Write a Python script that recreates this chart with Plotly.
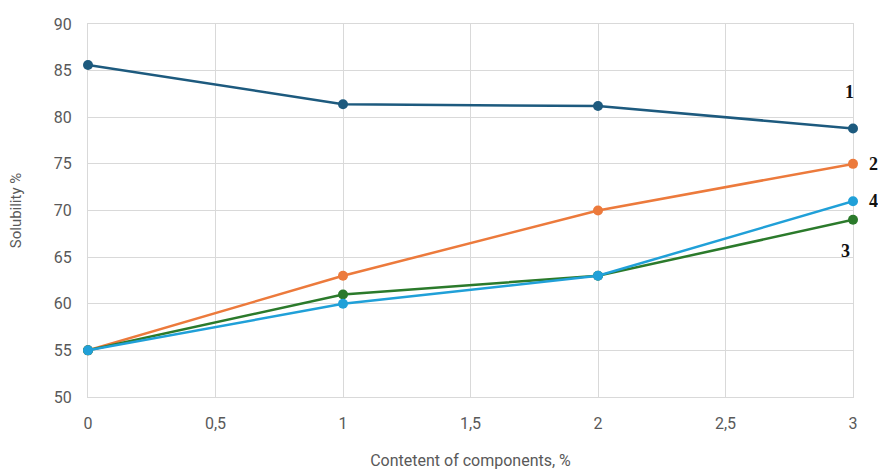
import plotly.graph_objects as go

# Content of components, %
content = [0, 1, 2, 3]

# Solubility, % for each composition
series_1 = [85.6, 81.4, 81.2, 78.8]
series_2 = [55.0, 63.0, 70.0, 75.0]
series_3 = [55.0, 61.0, 63.0, 69.0]
series_4 = [55.0, 60.0, 63.0, 71.0]

curve_names = ["1", "2", "3", "4"]
colors = ["#1d5a7e", "#ec7a3c", "#2b7a2b", "#20a0d8"]

fig = go.Figure()
for name, ys, c in zip(curve_names, [series_1, series_2, series_3, series_4], colors):
    fig.add_trace(go.Scatter(
        x=content, y=ys, mode="lines+markers", name=name,
        line=dict(color=c, width=2.5),
        marker=dict(color=c, size=10),
        cliponaxis=False, showlegend=False,
    ))

# Curve numbers next to the last points
label_pos = {"1": (series_1[-1], -4, 36), "2": (series_2[-1], 20, 0),
             "4": (series_4[-1], 20, 0), "3": (series_3[-1], -8, -31)}
for name, (yv, dx, dy) in label_pos.items():
    fig.add_annotation(x=content[-1], y=yv, text=f"<b>{name}</b>", showarrow=False,
                       xshift=dx, yshift=dy,
                       font=dict(family="Liberation Serif", size=18, color="#111111"))

grid = "#d9d9d9"
tick_font = dict(family="Roboto", size=16, color="#595959")
fig.update_layout(
    width=878, height=473,
    margin=dict(l=88, r=25, t=24, b=76),
    paper_bgcolor="white", plot_bgcolor="white",
    separators=", ",
    xaxis=dict(range=[0, 3], dtick=0.5, showgrid=True, gridcolor=grid,
               showline=True, linecolor=grid, mirror=True, zeroline=False,
               layer="below traces", automargin=False,
               tickfont=tick_font, ticks="outside", ticklen=12, tickcolor="rgba(0,0,0,0)",
               title=dict(text="Contetent of components, %",
                          font=dict(family="Roboto", size=16, color="#595959"), standoff=22)),
    yaxis=dict(range=[50, 90], dtick=5, showgrid=True, gridcolor=grid,
               showline=True, linecolor=grid, mirror=True, zeroline=False,
               layer="below traces", automargin=False,
               tickfont=tick_font, ticks="outside", ticklen=12, tickcolor="rgba(0,0,0,0)",
               title=dict(text="Solubility %",
                          font=dict(family="Roboto", size=15, color="#595959"), standoff=28)),
)

fig.write_html("out.html")
